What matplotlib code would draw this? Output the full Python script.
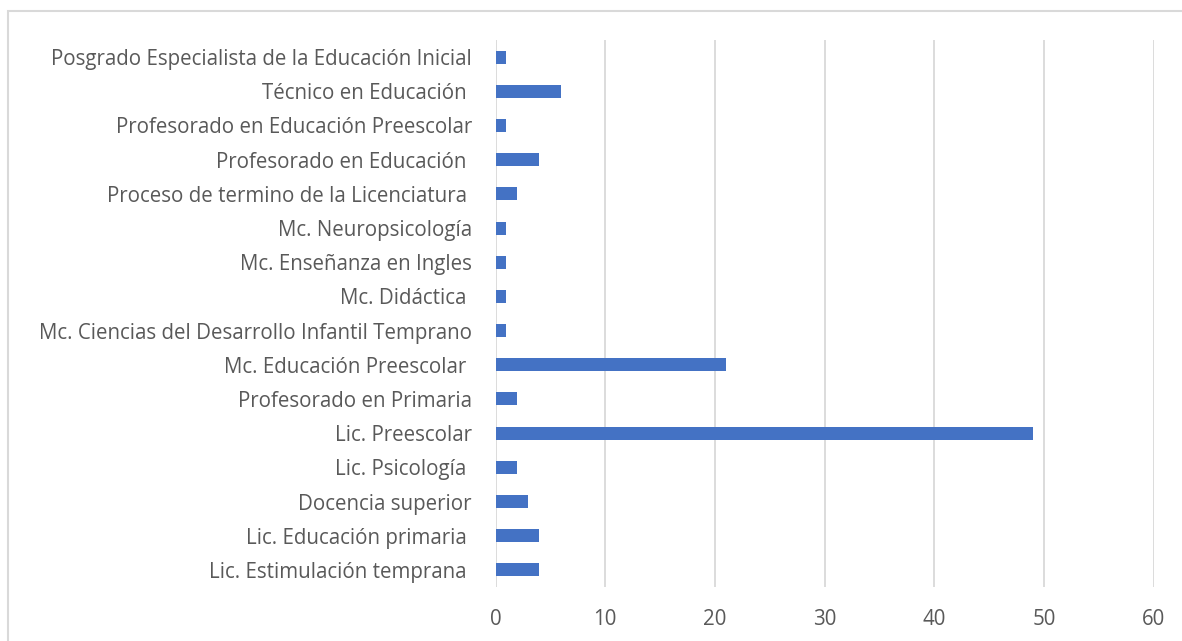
import numpy as np
import matplotlib
matplotlib.use("Agg")
from matplotlib import pyplot as plt
from matplotlib.patches import Rectangle

categories = [
    "Posgrado Especialista de la Educación Inicial",
    "Técnico en Educación ",
    "Profesorado en Educación Preescolar",
    "Profesorado en Educación ",
    "Proceso de termino de la Licenciatura ",
    "Mc. Neuropsicología",
    "Mc. Enseñanza en Ingles",
    "Mc. Didáctica ",
    "Mc. Ciencias del Desarrollo Infantil Temprano",
    "Mc. Educación Preescolar ",
    "Profesorado en Primaria",
    "Lic. Preescolar",
    "Lic. Psicología ",
    "Docencia superior",
    "Lic. Educación primaria ",
    "Lic. Estimulación temprana ",
]
values = [1, 6, 1, 4, 2, 1, 1, 1, 1, 21, 2, 49, 2, 3, 4, 4]
x_ticks = [0, 10, 20, 30, 40, 50, 60]

text_col = "#595959"
bar_col = "#4472C4"
grid_col = "#D9D9D9"

plt.rcParams['font.family'] = ['Open Sans', 'DejaVu Sans']

fig = plt.figure(figsize=(11.82, 6.41), dpi=100)
ax = fig.add_axes([495.5 / 1182, 1 - 587 / 641, (1153.5 - 495.5) / 1182, (587 - 40) / 641])

# outer chart border (only top/left visible in the crop)
fig.patches.append(Rectangle((7.5 / 1182, -0.5), 2, 1.5 - 10.5 / 641,
                             transform=fig.transFigure, fill=False,
                             edgecolor=grid_col, linewidth=1.5))

y = np.arange(len(categories))[::-1]
ax.barh(y, values, height=0.38, color=bar_col, zorder=3)

ax.set_xlim(0, 60)
ax.set_ylim(-0.5, len(categories) - 0.5)
ax.set_xticks(x_ticks)
ax.set_yticks(y)
ax.set_yticklabels(categories)
ax.tick_params(axis='both', length=0, labelsize=14.8, labelcolor=text_col)
ax.tick_params(axis='y', pad=17)
ax.tick_params(axis='x', pad=16)
ax.grid(axis='x', color=grid_col, linewidth=1.3, zorder=0)
for s in ax.spines.values():
    s.set_visible(False)

fig.savefig("out.png", dpi=100)
